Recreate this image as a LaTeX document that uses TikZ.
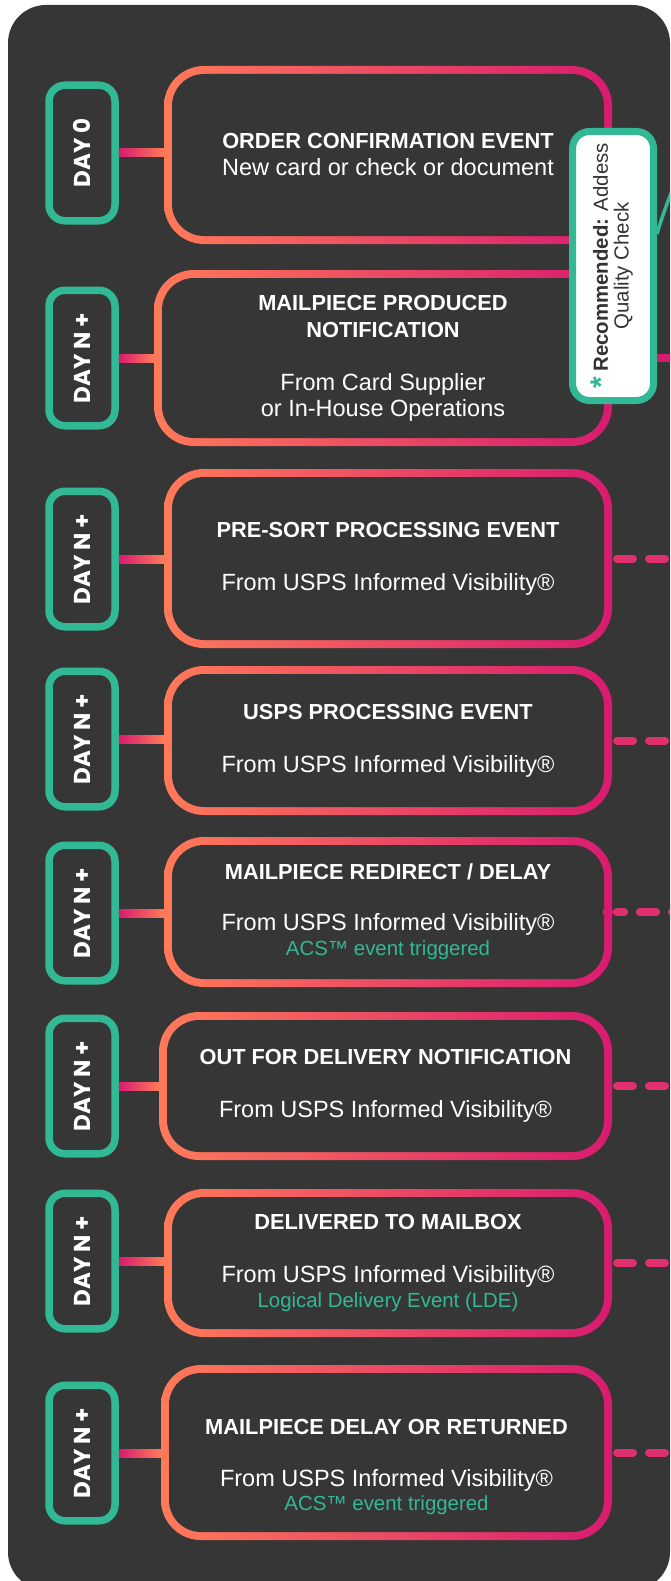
\documentclass[tikz,border=0pt]{standalone}
\usepackage{graphicx}
\usepackage{fontspec}
\setmainfont{Liberation Sans}
\newfontfamily\dayfont{Poppins}
\usepackage{tikz}

\definecolor{bgdark}{HTML}{363636}
\definecolor{evorange}{HTML}{FF7A59}
\definecolor{evmagenta}{HTML}{D81B6F}
\definecolor{dashpink}{HTML}{E0306F}
\definecolor{dayteal}{HTML}{31B995}
\definecolor{notetext}{HTML}{333333}

\newcommand{\evtitle}[1]{{\bfseries\fontsize{21.8}{26}\selectfont #1}}
\newcommand{\evsub}[1]{{\fontsize{23.5}{26}\selectfont #1}}
\newcommand{\evnote}[1]{{\color{dayteal}\fontsize{20.4}{24}\selectfont #1}}

\begin{document}
\begin{tikzpicture}[x=1pt, y=-1pt,
			daypill/.style={draw=dayteal, line width=7.5pt, fill=bgdark, rounded corners=16pt, minimum width=66pt, minimum height=135.5pt, inner sep=0pt, text=white, font=\dayfont\bfseries\fontsize{23}{26}\selectfont},
			eventtext/.style={text=white, align=center, inner sep=0pt, font=\fontsize{22}{26}\selectfont},
			eventbox/.style={eventtext, rounded corners=40pt, outer sep=0pt, minimum width=448pt, left color=evorange, right color=evmagenta,
				path picture={\fill[bgdark, rounded corners=32pt] ([shift={(8pt,8pt)}]path picture bounding box.south west) rectangle ([shift={(-8pt,-8pt)}]path picture bounding box.north east);}},
			notebox/.style={draw=dayteal, line width=7pt, fill=white, rounded corners=17pt, minimum width=81pt, minimum height=269pt, inner sep=0pt, text=notetext, font=\fontsize{20.4}{20}\selectfont},
			daylink/.style={left color=evmagenta, right color=evorange},
			dashlink/.style={draw=dashpink, line width=8pt, line cap=round, dash pattern=on 16pt off 16pt},
			solidlink/.style={draw=evmagenta, line width=8pt},
			notecurve/.style={draw=dayteal, line width=3.5pt},
			]
			% Canvas
			\useasboundingbox (0,0) rectangle (670,1581);
			\clip (0,0) rectangle (670,1581);
			\fill[white] (0,0) rectangle (670,1581);
			\fill[bgdark, rounded corners=38pt] (8,5) rectangle (670,1590);
			\coordinate (rim) at (700,0);
			\coordinate (far) at (678,176);
			
			% Event boxes
			\node[eventbox, minimum height=178pt] (e1) at (388,155) {\evtitle{ORDER CONFIRMATION EVENT}\\[1pt]\evsub{New card or check or document}};
			\node[eventbox, minimum width=458pt, minimum height=176pt] (e2) at (383,358) {\evtitle{MAILPIECE PRODUCED}\\[1pt]\evtitle{NOTIFICATION}\\[27pt]\evsub{From Card Supplier}\\\evsub{or In-House Operations}};
			\node[eventbox, minimum height=179pt] (e3) at (388,558.5) {\evtitle{PRE-SORT PROCESSING EVENT}\\[27pt]\evsub{From USPS Informed Visibility®}};
			\node[eventbox, minimum height=149pt] (e4) at (388,740.5) {\evtitle{USPS PROCESSING EVENT}\\[27pt]\evsub{From USPS Informed Visibility®}};
			\node[eventbox, minimum height=150pt] (e5) at (388,912) {\evtitle{MAILPIECE REDIRECT / DELAY}\\[25pt]\evsub{From USPS Informed Visibility®}\\[-1pt]\evnote{ACS™ event triggered}};
			\node[eventbox, minimum width=453pt, minimum height=148pt] (e6) at (385.5,1086) {\evtitle{OUT FOR DELIVERY NOTIFICATION}\\[27pt]\evsub{From USPS Informed Visibility®}};
			\node[eventbox, minimum height=148pt] (e7) at (388,1263) {\evtitle{DELIVERED TO MAILBOX}\\[27pt]\evsub{From USPS Informed Visibility®}\\[-1pt]\evnote{Logical Delivery Event (LDE)}};
			\node[eventbox, minimum width=451pt, minimum height=175pt] (e8) at (386.5,1452.5) {};
			\node[eventtext] (e8txt) at (386.5,1467) {\evtitle{MAILPIECE DELAY OR RETURNED}\\[26pt]\evsub{From USPS Informed Visibility®}\\[-2pt]\evnote{ACS™ event triggered}};
			
			% Day pills
			\node[daypill] (p1) at (82,153) {\rotatebox{90}{DAY 0}};
			\node[daypill] (p2) at (82,358) {\rotatebox{90}{DAY N +}};
			\node[daypill] (p3) at (82,559) {\rotatebox{90}{DAY N +}};
			\node[daypill] (p4) at (82,739) {\rotatebox{90}{DAY N +}};
			\node[daypill] (p5) at (82,913) {\rotatebox{90}{DAY N +}};
			\node[daypill] (p6) at (82,1086) {\rotatebox{90}{DAY N +}};
			\node[daypill] (p7) at (82,1261) {\rotatebox{90}{DAY N +}};
			\node[daypill] (p8) at (82,1453) {\rotatebox{90}{DAY N +}};
			
			% Pill to box links
			\foreach \i in {1,...,8}
			\shade[daylink] ([yshift=4pt]p\i.east) rectangle ([yshift=-4pt]p\i.east -| e\i.west);
			
			% Dashed links to the right
			\foreach \i in {3,4,6,7,8}
			\draw[dashlink] ([xshift=5pt]e\i.east) -- (e\i.east -| rim);
			\fill[evmagenta] ([xshift=-4pt]e5.east) circle (5.5pt);
			\draw[dashlink, dash phase=9pt] ([xshift=5pt]e5.east) -- (e5.east -| rim);
			
			% Recommendation
			\node[notebox] (rec) at (613,266) {\rotatebox{90}{\begin{tabular}{@{}c@{}}\raisebox{-4pt}{\color{dayteal}\bfseries\fontsize{30}{20}\selectfont *} \textbf{Recommended:} Addess\\Quality Check\end{tabular}}};
			\draw[solidlink] (e2.east -| rec.east) -- (e2.east -| rim);
			\draw[notecurve] ([yshift=32pt]rec.east) .. controls +(5,-18) and +(-6,14) .. (far);
		\end{tikzpicture}
\end{document}
